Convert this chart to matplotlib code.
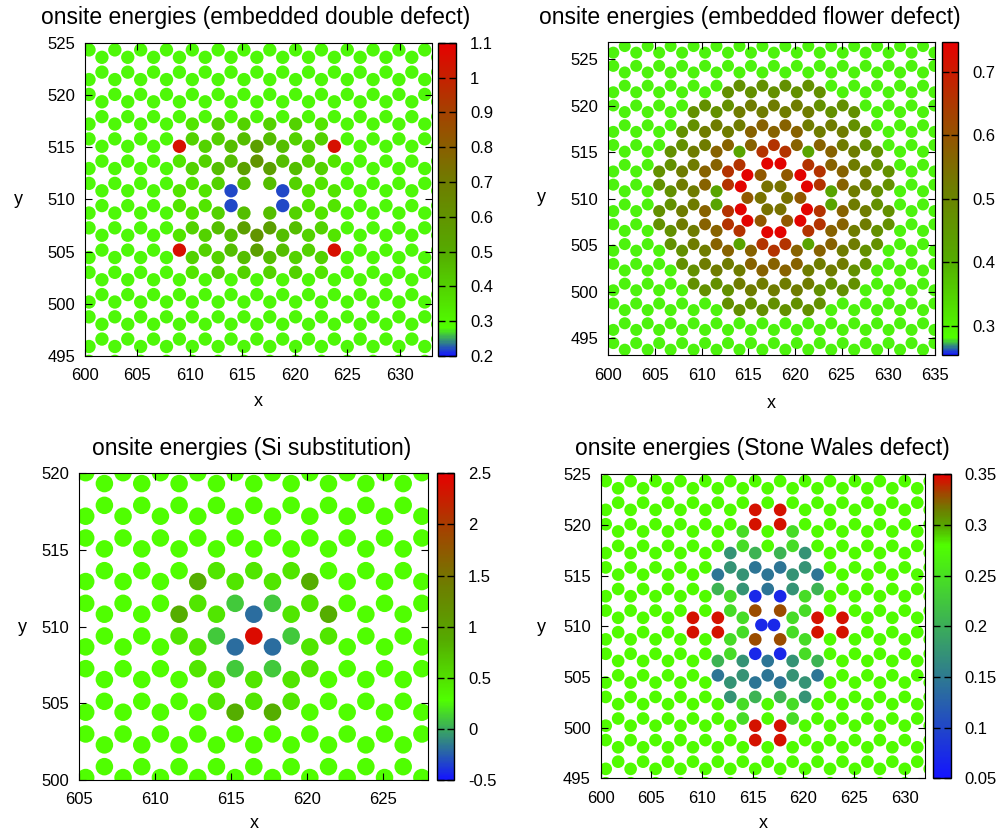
import numpy as np
import matplotlib
matplotlib.use('Agg')
import matplotlib.pyplot as plt
from matplotlib.colors import LinearSegmentedColormap, Normalize
from matplotlib.cm import ScalarMappable
from matplotlib.ticker import FuncFormatter

plt.rcParams['font.family'] = ['Liberation Sans', 'DejaVu Sans']

BOND = 1.42                 # C-C distance
DX = BOND * np.sqrt(3) / 2  # column spacing
HALF = BOND / 2             # row step of the site grid
BACKGROUND = 0.28           # onsite energy of bulk carbon

# Site tables: key = row index (units of BOND/2 from the centre),
# string = one char per column (units of DX), centre column in the middle.
# '.' bulk carbon, 'x' removed atom, other letters -> *_levels.

# --- embedded double defect (divacancy on a vertical bond)
dd_center = (616.37, 510.11)
dd_levels = {'a': 0.35, 'b': 0.40, 'c': 0.45, 'e': 0.55, 'f': 0.60,
             'R': 1.05, 'B': 0.22}
dd_sites = {
    10: "..a.b.b.b.b.a..",
    8: "..b.b.c.c.b.b..",
    7: ".R.b.c.e.c.b.R.",
    5: ".a.b.c.f.c.b.a.",
    4: "..b.c.e.e.c.b..",
    2: "..a.b.c.c.b.a..",
    1: ".a.a.B.x.B.a.a.",
    -1: ".a.a.B.x.B.a.a.",
    -2: "..a.b.c.c.b.a..",
    -4: "..b.c.e.e.c.b..",
    -5: ".a.b.c.f.c.b.a.",
    -7: ".R.b.c.e.c.b.R.",
    -8: "..b.b.c.c.b.b..",
    -10: "..a.b.b.b.b.a..",
}

# --- embedded flower defect (hexagon centred)
fl_center = (617.75, 510.10)
fl_levels = {'l': 0.42, 'o': 0.47, 'O': 0.52, 'n': 0.57, 'q': 0.66}
fl_sites = {
    17: "........o.o.o.o........",
    16: ".......o.o.o.o.o.......",
    14: ".....o.o.O.O.O.o.o.....",
    13: "....o.o.O.O.O.O.o.o....",
    11: "....o.O.O.n.n.O.O.o....",
    10: "...o.O.O.n.n.n.O.O.o...",
    8: "...o.O.n.n.q.n.n.O.o...",
    7: "..o.O.n.l.q.q.l.n.O.o..",
    5: "..o.O.n.q.x.x.q.n.O.o..",
    4: ".o.O.n.q.x.x.x.q.n.O.o.",
    2: ".o.O.n.q.x.x.x.q.n.O.o.",
    1: "..o.O.l.x.x.x.x.l.O.o..",
    -1: "..o.O.l.x.x.x.x.l.O.o..",
    -2: ".o.O.n.q.x.x.x.q.n.O.o.",
    -4: ".o.O.n.q.x.x.x.q.n.O.o.",
    -5: "..o.O.n.q.x.x.q.n.O.o..",
    -7: "..o.O.n.l.q.q.l.n.O.o..",
    -8: "...o.O.n.n.q.n.n.O.o...",
    -10: "...o.O.O.n.n.n.O.O.o...",
    -11: "....o.O.O.n.n.O.O.o....",
    -13: "....o.o.O.O.O.O.o.o....",
    -14: ".....o.o.O.O.O.o.o.....",
    -16: ".......o.o.o.o.o.......",
    -17: "........o.o.o.o........",
}
# rotated C24 core, offsets from the centre
fl_core_dx = [1.42, -1.42, 0.71, -0.71, 0.71, -0.71,
              2.84, -2.84, 1.42, -1.42, 1.42, -1.42,
              0.71, -0.71, 0.71, -0.71, 3.55, 3.55, -3.55, -3.55,
              2.84, 2.84, -2.84, -2.84]
fl_core_dy = [0.0, 0.0, 1.23, 1.23, -1.23, -1.23,
              0.0, 0.0, 2.46, 2.46, -2.46, -2.46,
              3.69, 3.69, -3.69, -3.69, 1.23, -1.23, 1.23, -1.23,
              2.46, -2.46, 2.46, -2.46]
fl_core_e = [0.54] * 6 + [0.59] * 6 + [0.74] * 12

# --- Si substitution (Si on an A site)
si_center = (616.51, 509.39)
si_levels = {'R': 2.4, 'B': -0.2, 't': 0.1, 'm': 0.45, 'o': 0.85}
si_sites = {
    6: "...m.m.m...",
    5: "..o.m.m.o..",
    3: "..m.t.t.m..",
    2: ".o.m.B.m.o.",
    0: ".m.t.R.t.m.",
    -1: "..m.B.B.m..",
    -3: "..m.t.t.m..",
    -4: "...m.m.m...",
    -6: "...m.m.m...",
    -7: "....o.o....",
}

# --- Stone-Wales defect (rotated vertical bond)
sw_center = (616.48, 510.13)
sw_levels = {'R': 0.345, 'r': 0.33, 'B': 0.07, 'b': 0.145, 't': 0.175,
             'u': 0.205, 'm': 0.245}
sw_sites = {
    16: "......R.R......",
    14: "......R.R......",
    13: ".....m...m.....",
    11: ".....m...m.....",
    10: "....t.u.u.t....",
    8: "....t.b.b.t....",
    7: "...b.t.b.t.b...",
    5: "...u.t.b.t.u...",
    4: "....m.B.B.m....",
    2: "....m.r.r.m....",
    1: ".R.R.m.x.m.R.R.",
    -1: ".R.R.m.x.m.R.R.",
    -2: "....m.r.r.m....",
    -4: "....m.B.B.m....",
    -5: "...u.t.b.t.u...",
    -7: "...b.t.b.t.b...",
    -8: "....t.b.b.t....",
    -10: "....t.u.u.t....",
    -11: ".....m...m.....",
    -13: ".....m...m.....",
    -14: "......R.R......",
    -16: "......R.R......",
}
sw_bond_dx = [-0.62, 0.62]
sw_bond_dy = [0.0, 0.0]
sw_bond_e = [0.07, 0.07]


def honeycomb(x0, y0, xlim, ylim):
    """Graphene sheet with vertical bonds; (x0, y0) is a lower-sublattice atom."""
    m, n = np.meshgrid(np.arange(-35, 36), np.arange(-35, 36))
    ax_ = (x0 + 2 * DX * m + DX * n).ravel()
    ay_ = (y0 + 1.5 * BOND * n).ravel()
    x = np.concatenate([ax_, ax_])
    y = np.concatenate([ay_, ay_ + BOND])
    inside = ((x > xlim[0] - 1) & (x < xlim[1] + 1) &
              (y > ylim[0] - 1) & (y < ylim[1] + 1))
    return x[inside], y[inside]


def onsite(x, y, center, sites, levels):
    col = np.rint((x - center[0]) / DX).astype(int)
    row = np.rint((y - center[1]) / HALF).astype(int)
    e = np.full(x.shape, BACKGROUND)
    keep = np.ones(x.shape, bool)
    for k in range(len(x)):
        line = sites.get(row[k])
        if line is None:
            continue
        i = col[k] + len(line) // 2
        if 0 <= i < len(line):
            ch = line[i]
            if ch == 'x':
                keep[k] = False
            elif ch in levels:
                e[k] = levels[ch]
    return x[keep], y[keep], e[keep]


def palette(vmin, vmax):
    f = (BACKGROUND - vmin) / (vmax - vmin)
    pos = [0.0, f, f + (1 - f) * 0.27, f + (1 - f) * 0.51,
           f + (1 - f) * 0.76, 1.0]
    cols = ['#1414ff', '#50ff00', '#55aa00', '#6e7d00', '#a54100', '#e60000']
    return LinearSegmentedColormap.from_list('onsite', list(zip(pos, cols)))


fmt = FuncFormatter(lambda v, _: f'{v:g}')
fig = plt.figure(figsize=(10, 8.34), dpi=100)


def px_rect(l, t, r, b):
    return [l / 1000, 1 - b / 834, (r - l) / 1000, (b - t) / 834]


def panel(x, y, e, size, rect, cbrect, xlim, ylim, xticks, yticks,
          crange, cticks):
    cmap = palette(*crange)
    norm = Normalize(*crange)
    ax = fig.add_axes(px_rect(*rect))
    ax.scatter(x, y, c=e, cmap=cmap, norm=norm, s=size, linewidths=0)
    ax.set_xlim(xlim)
    ax.set_ylim(ylim)
    ax.set_xticks(xticks)
    ax.set_yticks(yticks)
    ax.xaxis.set_major_formatter(fmt)
    ax.yaxis.set_major_formatter(fmt)
    ax.tick_params(direction='in', top=True, right=True, length=5,
                   labelsize=12)
    ax.tick_params(axis='x', pad=9)
    ax.tick_params(axis='y', pad=7)
    cax = fig.add_axes(px_rect(*cbrect))
    cb = fig.colorbar(ScalarMappable(norm=norm, cmap=cmap), cax=cax,
                      ticks=cticks, format=fmt)
    cb.ax.tick_params(direction='in', left=True, right=True, length=5,
                      width=1, labelsize=12, pad=10)
    cb.outline.set_linewidth(1)
    return ax


# double defect
xlim1, ylim1 = (600, 633), (495, 525)
x, y = honeycomb(dd_center[0], dd_center[1] - HALF, xlim1, ylim1)
x, y, e = onsite(x, y, dd_center, dd_sites, dd_levels)
panel(x, y, e, 92, (85, 42.7, 431.5, 356), (438, 42.7, 456, 356),
      xlim1, ylim1, np.arange(600, 631, 5), np.arange(495, 526, 5),
      (0.2, 1.1), np.arange(0.2, 1.11, 0.1))

# flower defect
xlim2, ylim2 = (600, 635), (493.2, 526.9)
x, y = honeycomb(fl_center[0] - DX, fl_center[1] - HALF, xlim2, ylim2)
x, y, e = onsite(x, y, fl_center, fl_sites, fl_levels)
x = np.concatenate([x, fl_center[0] + np.array(fl_core_dx)])
y = np.concatenate([y, fl_center[1] + np.array(fl_core_dy)])
e = np.concatenate([e, fl_core_e])
panel(x, y, e, 75, (608.3, 41.7, 934.8, 355), (941.7, 41.7, 958.3, 355),
      xlim2, ylim2, np.arange(600, 636, 5), np.arange(495, 526, 5),
      (0.2535, 0.7475), np.arange(0.3, 0.71, 0.1))

# Si substitution
xlim3, ylim3 = (605, 628), (500, 520)
x, y = honeycomb(si_center[0], si_center[1], xlim3, ylim3)
x, y, e = onsite(x, y, si_center, si_sites, si_levels)
panel(x, y, e, 159, (79, 473.3, 428.3, 780), (436.7, 473.3, 454.3, 780),
      xlim3, ylim3, np.arange(605, 626, 5), np.arange(500, 521, 5),
      (-0.5, 2.5), np.arange(-0.5, 2.51, 0.5))

# Stone-Wales defect
xlim4, ylim4 = (600, 632), (495, 525)
x, y = honeycomb(sw_center[0], sw_center[1] - HALF, xlim4, ylim4)
x, y, e = onsite(x, y, sw_center, sw_sites, sw_levels)
x = np.concatenate([x, sw_center[0] + np.array(sw_bond_dx)])
y = np.concatenate([y, sw_center[1] + np.array(sw_bond_dy)])
e = np.concatenate([e, sw_bond_e])
panel(x, y, e, 83, (600.7, 474.3, 925, 778.3), (933.3, 474.3, 950.7, 778.3),
      xlim4, ylim4, np.arange(600, 631, 5), np.arange(495, 526, 5),
      (0.05, 0.35), np.arange(0.05, 0.351, 0.05))

titles = [("onsite energies (embedded double defect)", 256, 24),
          ("onsite energies (embedded flower defect)", 750, 24),
          ("onsite energies (Si substitution)", 252, 455),
          ("onsite energies (Stone Wales defect)", 762, 455)]
for text, cx, base in titles:
    fig.text(cx / 1000, 1 - base / 834, text, ha='center', va='baseline',
             fontsize=16.5)

labels = [('x', 258, 402), ('y', 18, 200), ('x', 771, 403), ('y', 541, 198),
          ('x', 254, 823), ('y', 22, 627), ('x', 763, 823), ('y', 541, 627)]
for text, lx, ly in labels:
    fig.text(lx / 1000, 1 - ly / 834, text, ha='center', va='center',
             fontsize=13)

fig.savefig('out.png', dpi=100)
